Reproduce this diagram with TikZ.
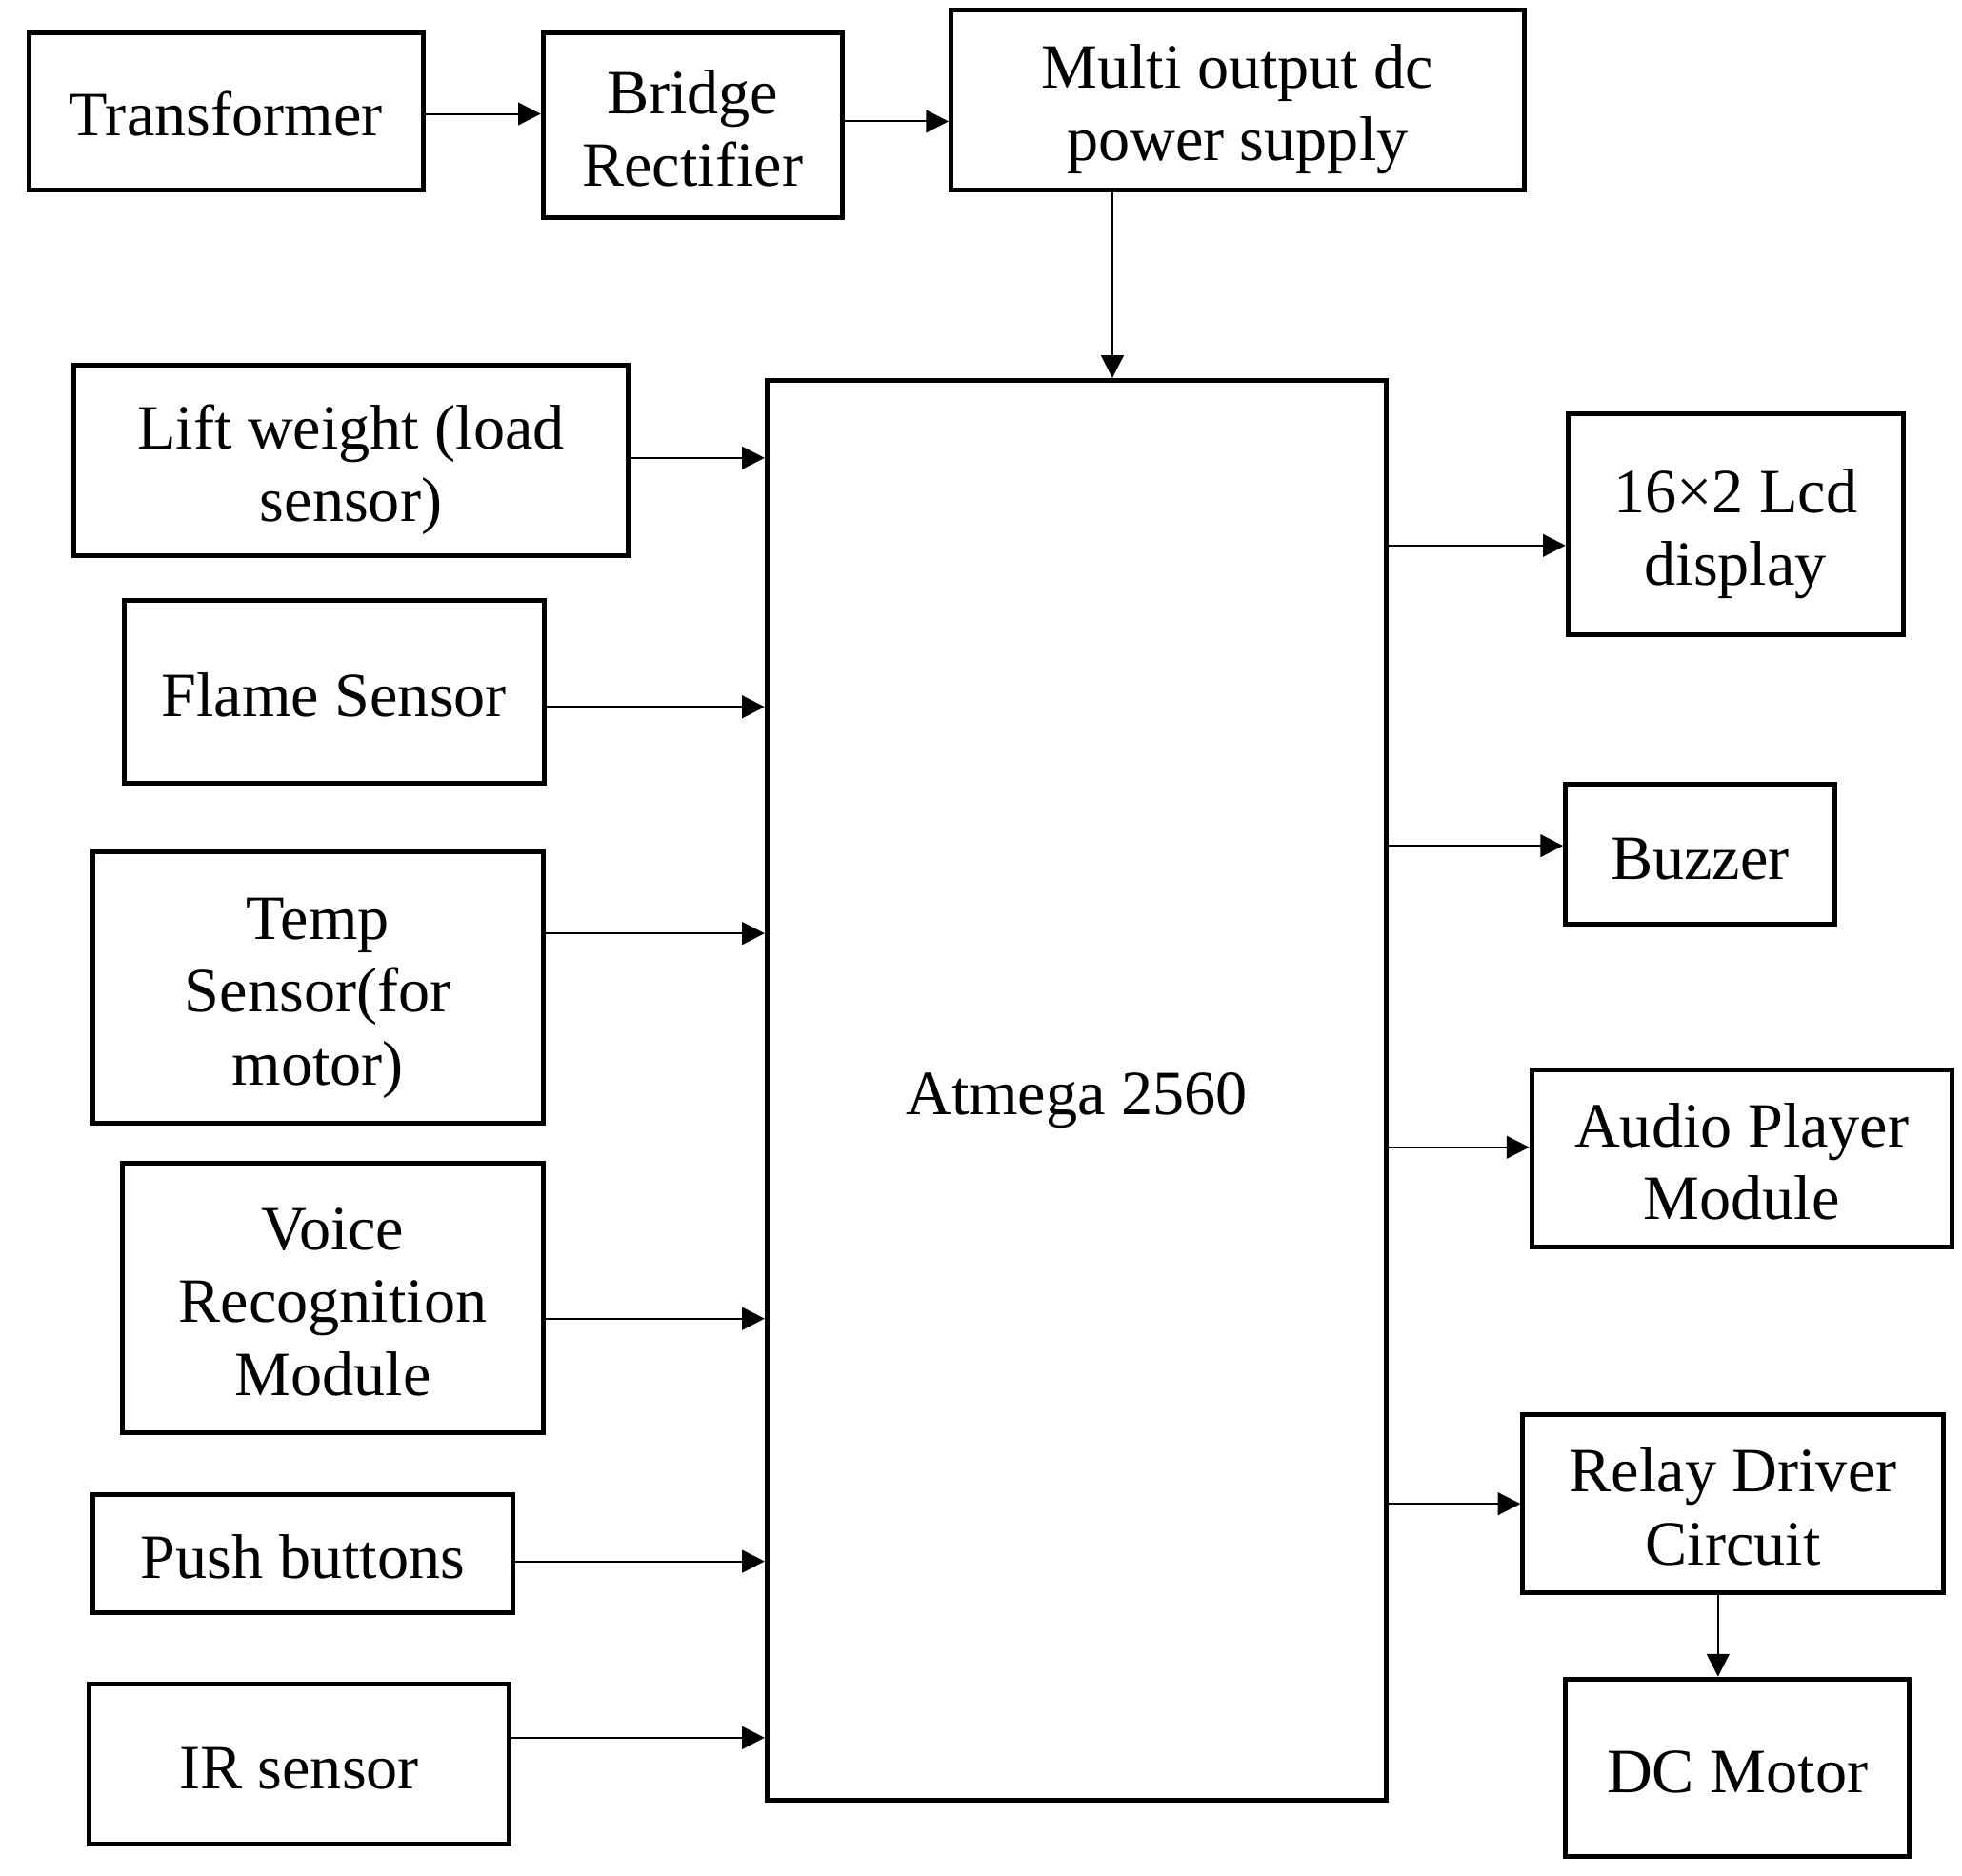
\documentclass[tikz,border=0pt]{standalone}
\usepackage{fontspec}
\setmainfont{Liberation Serif}
\usetikzlibrary{arrows.meta}
\newcommand\bt[1]{\raisebox{-4pt}[\height][\depth]{\begin{tabular}{@{}c@{}}#1\end{tabular}}}
\begin{document}
\begin{tikzpicture}[x=0.5pt,y=-0.5pt,
  box/.style={draw, line width=1.9pt, inner sep=0pt,
    font=\fontsize{25.2}{29}\selectfont},
  arr/.style={line width=0.8pt, -{Triangle[length=9pt,width=9pt]}}]
\useasboundingbox (0,0) rectangle (1568,1499);
% top row
\node[box, minimum width=157.5pt, minimum height=63pt] (tr) at (180.5,89) {\bt{Transformer}};
\node[box, minimum width=119.5pt, minimum height=74pt] (br) at (553.5,100) {\bt{Bridge\\Rectifier}};
\node[box, minimum width=229pt, minimum height=72pt] (mo) at (989,80) {\bt{Multi output dc\\power supply}};
% controller
\node[box, minimum width=247.5pt, minimum height=567.5pt] (at) at (860.5,871.5) {\bt{Atmega 2560}};
% inputs
\node[box, minimum width=221.5pt, minimum height=76pt] (lw) at (280.5,368) {\bt{Lift weight (load\\sensor)}};
\node[box, minimum width=168pt, minimum height=73pt] (fl) at (267,553) {\bt{Flame Sensor}};
\node[box, minimum width=180pt, minimum height=108.5pt] (te) at (254,789.5) {\bt{Temp\\Sensor(for\\motor)}};
\node[box, minimum width=168pt, minimum height=107.5pt] (vo) at (266,1037.5) {\bt{Voice\\Recognition\\Module}};
\node[box, minimum width=168pt, minimum height=47pt] (pb) at (242,1242) {\bt{Push buttons}};
\node[box, minimum width=168pt, minimum height=64pt] (ir) at (239,1410) {\bt{IR sensor}};
% outputs
\node[box, minimum width=134pt, minimum height=88pt] (lcd) at (1387,419) {\bt{16×2 Lcd\\display}};
\node[box, minimum width=107.5pt, minimum height=56pt] (bz) at (1358.5,683) {\bt{Buzzer}};
\node[box, minimum width=168pt, minimum height=71pt] (au) at (1392,926) {\bt{Audio Player\\Module}};
\node[box, minimum width=168pt, minimum height=71pt] (rl) at (1385,1202) {\bt{Relay Driver\\Circuit}};
\node[box, minimum width=137.5pt, minimum height=71pt] (dc) at (1388.5,1413) {\bt{DC Motor}};
% connectors
\draw[arr] ([yshift=-1pt]tr.east) -- ([yshift=-1pt]tr.east -| br.west);
\draw[arr] ([yshift=1.5pt]br.east) -- ([yshift=1.5pt]br.east -| mo.west);
\draw[arr] ([xshift=-50pt]mo.south) -- ([xshift=-50pt]mo.south |- at.north);
\draw[arr] ([yshift=1pt]lw.east) -- ([yshift=1pt]lw.east -| at.west);
\draw[arr] ([yshift=-6pt]fl.east) -- ([yshift=-6pt]fl.east -| at.west);
\draw[arr] ([yshift=21.75pt]te.east) -- ([yshift=21.75pt]te.east -| at.west);
\draw[arr] ([yshift=-8.25pt]vo.east) -- ([yshift=-8.25pt]vo.east -| at.west);
\draw[arr] ([yshift=-3pt]pb.east) -- ([yshift=-3pt]pb.east -| at.west);
\draw[arr] ([yshift=10.5pt]ir.east) -- ([yshift=10.5pt]ir.east -| at.west);
\draw[arr] ([yshift=-8.5pt]lcd.west -| at.east) -- ([yshift=-8.5pt]lcd.west);
\draw[arr] ([yshift=3.5pt]bz.west -| at.east) -- ([yshift=3.5pt]bz.west);
\draw[arr] ([yshift=4.5pt,xshift=-2pt]au.west -| at.east) -- ([yshift=4.5pt]au.west);
\draw[arr] (rl.west -| at.east) -- (rl.west);
\draw[arr] ([xshift=-6pt]rl.south) -- ([xshift=-6pt]rl.south |- dc.north);
\end{tikzpicture}
\end{document}
